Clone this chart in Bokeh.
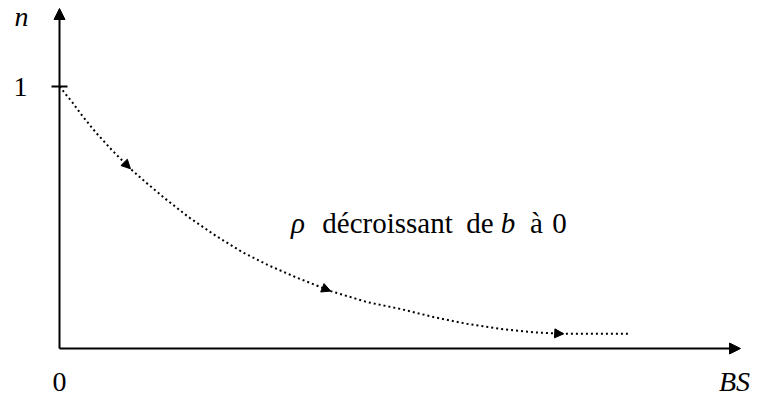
from bokeh.plotting import figure
from bokeh.models import Range1d, Arrow, NormalHead
from bokeh.core.properties import value
from bokeh.embed import file_html
from bokeh.resources import INLINE

# ---- data ----
bs = [0.0, 0.222, 0.397, 0.630, 0.923, 1.243, 1.506, 1.856, 2.264, 2.732, 3.200,
      3.665, 4.138, 4.75, 5.39, 5.97, 6.55, 7.14, 7.72, 8.30, 8.83, 10.0]
n = [1.0, 0.940, 0.889, 0.826, 0.756, 0.686, 0.635, 0.571, 0.501, 0.431, 0.368,
     0.317, 0.272, 0.219, 0.177, 0.151, 0.120, 0.094, 0.075, 0.062, 0.056, 0.056]
arrow_idx = [5, 13, 20]
y_ticks = [1]
y_tick_labels = ["1"]
x_ticks = [0]
x_tick_labels = ["0"]
x_label = "BS"
y_label = "n"
note_words = ["ρ", "décroissant", "de", "b", "à", "0"]
note_italic = [True, False, False, True, False, False]

# ---- layout (picture pixels -> data) ----
W, H = 752, 396
OX, OY = 59.0, 348.0      # origin in the picture
SX, SY = 57.1, 262.0      # px per data unit


def dx(px):
    return (px - OX) / SX


def dy(py):
    return (OY - py) / SY


FONT = value("'Liberation Serif', serif")
FS = "28px"
FS_NOTE = "29px"

p = figure(width=W, height=H, output_backend="svg", toolbar_location=None,
           x_range=Range1d(dx(0), dx(W)), y_range=Range1d(dy(H), dy(0)),
           x_axis_location=None, y_axis_location=None, min_border=0,
           background_fill_color="white", border_fill_color="white")
p.grid.visible = False
p.outline_line_color = None

# axes with arrow heads
p.add_layout(Arrow(end=NormalHead(size=11, fill_color="black", line_color="black", line_width=1),
                   x_start=0, y_start=0, x_end=dx(740), y_end=0,
                   line_width=2, line_color="black"))
p.add_layout(Arrow(end=NormalHead(size=11, fill_color="black", line_color="black", line_width=1),
                   x_start=0, y_start=0, x_end=0, y_end=dy(8),
                   line_width=2, line_color="black"))

# tick at n = 1
p.segment(x0=[dx(51)] * len(y_ticks), y0=y_ticks, x1=[dx(67)] * len(y_ticks), y1=y_ticks,
          line_width=2, line_color="black")

# dotted curve
p.line(bs, n, line_color="black", line_width=2, line_dash="2 3", line_cap="butt")

# direction arrows on the curve
for i in arrow_idx:
    p.add_layout(Arrow(end=NormalHead(size=9, fill_color="black", line_color="black", line_width=1),
                       x_start=bs[i - 1], y_start=n[i - 1], x_end=bs[i], y_end=n[i],
                       line_alpha=0))

# labels (vertically centred)
p.text(x=[dx(21)], y=[dy(16)], text=[y_label], text_font=FONT, text_font_style="italic",
       text_font_size=FS, text_align="center", text_baseline="middle", text_color="black")
p.text(x=[dx(20)] * len(y_ticks), y=y_ticks, text=y_tick_labels,
       text_font=FONT, text_font_size=FS, text_align="center", text_baseline="middle",
       text_color="black")
p.text(x=x_ticks, y=[dy(381)] * len(x_ticks), text=x_tick_labels, text_font=FONT,
       text_font_size=FS, text_align="center", text_baseline="middle", text_color="black")
p.text(x=[dx(734)], y=[dy(381)], text=[x_label], text_font=FONT, text_font_style="italic",
       text_font_size=FS, text_align="center", text_baseline="middle", text_color="black")

# annotation "ρ décroissant de b à 0"
word_center = [297.5, 387, 479.5, 507.5, 536, 559]
for w, it, cx in zip(note_words, note_italic, word_center):
    p.text(x=[dx(cx)], y=[dy(222.5)], text=[w], text_font=FONT,
           text_font_style="italic" if it else "normal", text_font_size=FS_NOTE,
           text_align="center", text_baseline="middle", text_color="black")

open("out.html", "w").write(file_html(p, INLINE))
